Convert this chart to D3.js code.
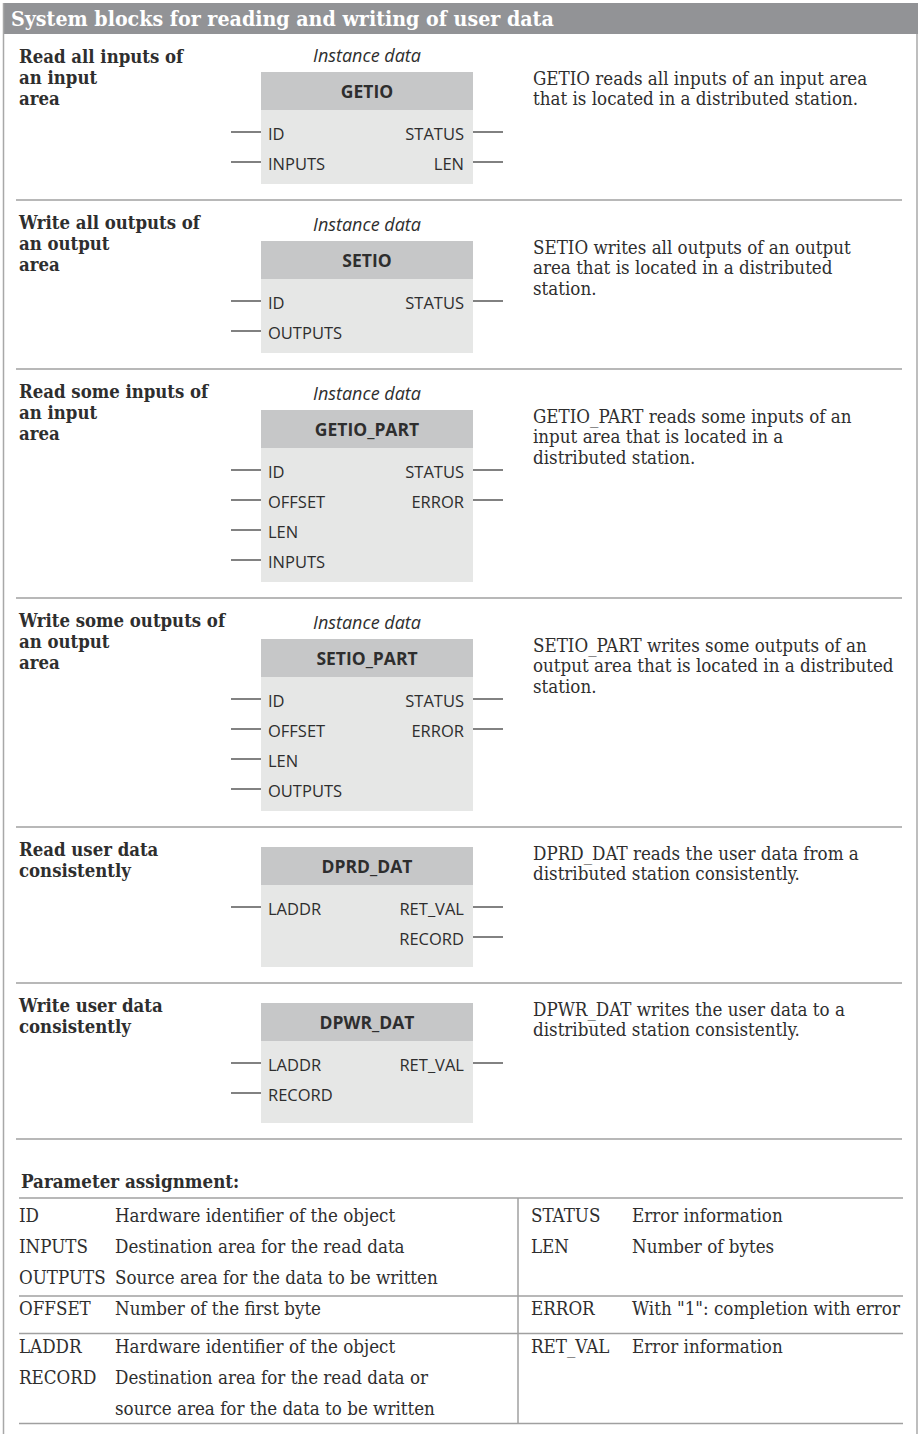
<!DOCTYPE html>
<html><head><meta charset="utf-8">
<script src="https://cdn.jsdelivr.net/npm/d3@7"></script>
<style>
html,body{margin:0;padding:0;background:#fff;}
.serif{font-family:"DejaVu Serif",serif;font-stretch:condensed;}
.sans{font-family:"Open Sans","Noto Sans",sans-serif;}
</style></head>
<body><div id="chart"></div>
<script>
// ---------- data ----------
const chartTitle = "System blocks for reading and writing of user data";
const blockNames = ["GETIO","SETIO","GETIO_PART","SETIO_PART","DPRD_DAT","DPWR_DAT"];
const blockTitles = [
  ["Read all inputs of","an input","area"],
  ["Write all outputs of","an output","area"],
  ["Read some inputs of","an input","area"],
  ["Write some outputs of","an output","area"],
  ["Read user data","consistently"],
  ["Write user data","consistently"]
];
const blockDescs = [
  ["GETIO reads all inputs of an input area","that is located in a distributed station."],
  ["SETIO writes all outputs of an output","area that is located in a distributed","station."],
  ["GETIO_PART reads some inputs of an","input area that is located in a","distributed station."],
  ["SETIO_PART writes some outputs of an","output area that is located in a distributed","station."],
  ["DPRD_DAT reads the user data from a","distributed station consistently."],
  ["DPWR_DAT writes the user data to a","distributed station consistently."]
];
const blockInputs = [
  ["ID","INPUTS"],
  ["ID","OUTPUTS"],
  ["ID","OFFSET","LEN","INPUTS"],
  ["ID","OFFSET","LEN","OUTPUTS"],
  ["LADDR"],
  ["LADDR","RECORD"]
];
const blockOutputs = [
  ["STATUS","LEN"],
  ["STATUS"],
  ["STATUS","ERROR"],
  ["STATUS","ERROR"],
  ["RET_VAL","RECORD"],
  ["RET_VAL"]
];
const hasInstance = [true,true,true,true,false,false];
const instanceLabel = "Instance data";

const tableTitle = "Parameter assignment:";
const tableLeft = [
  [["ID","Hardware identifier of the object"],["INPUTS","Destination area for the read data"],["OUTPUTS","Source area for the data to be written"]],
  [["OFFSET","Number of the first byte"]],
  [["LADDR","Hardware identifier of the object"],["RECORD","Destination area for the read data or"],["","source area for the data to be written"]]
];
const tableRight = [
  [["STATUS","Error information"],["LEN","Number of bytes"]],
  [["ERROR","With \"1\": completion with error"]],
  [["RET_VAL","Error information"]]
];

// ---------- layout ----------
const W = 920, H = 1434;
const svg = d3.select("#chart").append("svg").attr("width", W).attr("height", H);

const dark = "#2e2e2e", lineGray = "#a0a0a0";
const boxX0 = 261, boxX1 = 473, pinLen = 30;
const boxCX = (boxX0 + boxX1) / 2;
const serifSize = 18.6, titleSize = 18.4, pinSize = 16.5;

// header bar
svg.append("rect").attr("x", 3).attr("y", 3).attr("width", 915).attr("height", 31).attr("fill", "#929396");
svg.append("text").attr("class","serif").attr("x", 11).attr("y", 26)
  .attr("font-size", 21.2).attr("font-weight", "bold").attr("fill", "#fff").text(chartTitle);

// frame borders
svg.append("line").attr("x1", 3.5).attr("x2", 3.5).attr("y1", 3).attr("y2", H).attr("stroke", "#a8a8a8").attr("stroke-width", 1.5);
svg.append("line").attr("x1", 917).attr("x2", 917).attr("y1", 34).attr("y2", H).attr("stroke", "#a8a8a8").attr("stroke-width", 1.5);

const rowStep = 30;
let sepTop = 34;

blockNames.forEach((name, i) => {
  const g = svg.append("g");
  const inst = hasInstance[i];
  const boxTop = sepTop + (inst ? (i === 0 ? 38 : 41) : 20);
  const headBottom = boxTop + 38;
  const nRows = Math.max(blockInputs[i].length, blockOutputs[i].length);
  const rowY = d3.scaleLinear().domain([0, 1]).range([headBottom + 22, headBottom + 22 + rowStep]);
  const boxBottom = rowY(nRows - 1) + (inst ? 22 : 30);

  // title
  g.selectAll("text.ttl").data(blockTitles[i]).join("text").attr("class","serif ttl")
    .attr("x", 19).attr("y", (d, k) => sepTop + 29 + k * 21)
    .attr("font-size", titleSize).attr("font-weight", "bold").attr("fill", dark).text(d => d);

  // description
  g.selectAll("text.desc").data(blockDescs[i]).join("text").attr("class","serif desc")
    .attr("x", 533).attr("y", (d, k) => boxTop + 12.5 + k * 20.7)
    .attr("font-size", serifSize).attr("fill", dark).text(d => d);

  if (inst) {
    g.append("text").attr("class","sans").attr("x", boxCX).attr("y", boxTop - 10)
      .attr("text-anchor", "middle").attr("font-size", 18).attr("font-style", "italic").attr("fill", dark).text(instanceLabel);
  }

  // box
  g.append("rect").attr("x", boxX0).attr("y", headBottom).attr("width", boxX1 - boxX0).attr("height", boxBottom - headBottom).attr("fill", "#e6e7e6");
  g.append("rect").attr("x", boxX0).attr("y", boxTop).attr("width", boxX1 - boxX0).attr("height", headBottom - boxTop).attr("fill", "#c6c7c8");
  g.append("text").attr("class","sans").attr("x", boxCX).attr("y", (boxTop + headBottom) / 2 + 6.5)
    .attr("text-anchor", "middle").attr("font-size", 17.5).attr("font-weight", "bold").attr("fill", dark).text(name);

  // inputs
  const ins = g.selectAll("g.in").data(blockInputs[i]).join("g").attr("class", "in");
  ins.append("line").attr("x1", boxX0 - pinLen).attr("x2", boxX0).attr("y1", (d, k) => rowY(k)).attr("y2", (d, k) => rowY(k))
    .attr("stroke", dark).attr("stroke-width", 1.2);
  ins.append("text").attr("class","sans").attr("x", boxX0 + 7).attr("y", (d, k) => rowY(k) + 7.5)
    .attr("font-size", pinSize).attr("fill", dark).text(d => d);

  // outputs
  const outs = g.selectAll("g.out").data(blockOutputs[i]).join("g").attr("class", "out");
  outs.append("line").attr("x1", boxX1).attr("x2", boxX1 + pinLen).attr("y1", (d, k) => rowY(k)).attr("y2", (d, k) => rowY(k))
    .attr("stroke", dark).attr("stroke-width", 1.2);
  outs.append("text").attr("class","sans").attr("x", boxX1 - 9).attr("y", (d, k) => rowY(k) + 7.5)
    .attr("text-anchor", "end").attr("font-size", pinSize).attr("fill", dark).text(d => d);

  sepTop = boxBottom + 16;
  svg.append("line").attr("x1", 16).attr("x2", 902).attr("y1", sepTop).attr("y2", sepTop)
    .attr("stroke", lineGray).attr("stroke-width", 1.5);
});

// ---------- table ----------
const tg = svg.append("g");
tg.append("text").attr("class","serif").attr("x", 21).attr("y", 1188)
  .attr("font-size", serifSize).attr("font-weight", "bold").attr("fill", dark).text(tableTitle);

const tX0 = 19, tX1 = 903, tDiv = 518;
const colX = [19, 115, 531, 632];
const groupTopPad = [24, 18.5, 19], groupBottomPad = [12, 19, 9], tRowStep = 31;
let ty = 1198;
const tableTop = ty;
tg.append("line").attr("x1", tX0).attr("x2", tX1).attr("y1", ty).attr("y2", ty).attr("stroke", lineGray).attr("stroke-width", 1.5);
tableLeft.forEach((grp, gi) => {
  const n = Math.max(grp.length, tableRight[gi].length);
  const ry = d3.scaleLinear().domain([0, 1]).range([ty + groupTopPad[gi], ty + groupTopPad[gi] + tRowStep]);
  const put = (rows, cx) => {
    rows.forEach((r, k) => {
      tg.append("text").attr("class","serif").attr("x", cx[0]).attr("y", ry(k))
        .attr("font-size", serifSize).attr("fill", dark).text(r[0]);
      tg.append("text").attr("class","serif").attr("x", cx[1]).attr("y", ry(k))
        .attr("font-size", serifSize).attr("fill", dark).text(r[1]);
    });
  };
  put(grp, [colX[0], colX[1]]);
  put(tableRight[gi], [colX[2], colX[3]]);
  ty = ry(n - 1) + groupBottomPad[gi];
  tg.append("line").attr("x1", tX0).attr("x2", tX1).attr("y1", ty).attr("y2", ty).attr("stroke", lineGray).attr("stroke-width", 1.5);
});
tg.append("line").attr("x1", tDiv).attr("x2", tDiv).attr("y1", tableTop).attr("y2", ty).attr("stroke", lineGray).attr("stroke-width", 1.5);
</script></body></html>
